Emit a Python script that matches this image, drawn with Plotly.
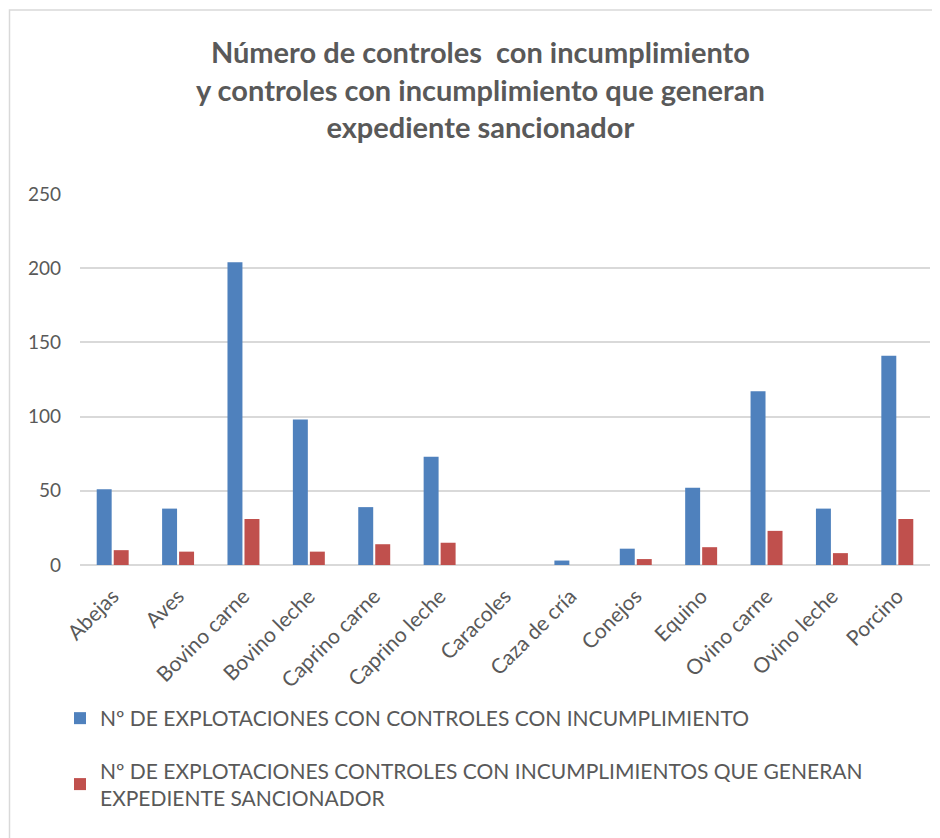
import plotly.graph_objects as go

categories = ["Abejas", "Aves", "Bovino carne", "Bovino leche", "Caprino carne",
              "Caprino leche", "Caracoles", "Caza de cría", "Conejos", "Equino",
              "Ovino carne", "Ovino leche", "Porcino"]
incumplimiento = [51, 38, 204, 98, 39, 73, 0, 3, 11, 52, 117, 38, 141]
sancionador = [10, 9, 31, 9, 14, 15, 0, 0, 4, 12, 23, 8, 31]
series_names = ["Nº DE EXPLOTACIONES CON CONTROLES CON INCUMPLIMIENTO",
                "Nº DE EXPLOTACIONES CONTROLES CON INCUMPLIMIENTOS QUE GENERAN<br>EXPEDIENTE SANCIONADOR"]
title_text = ("Número de controles  con incumplimiento<br>"
              "y controles con incumplimiento que generan<br>expediente sancionador")
y_ticks = [0, 50, 100, 150, 200, 250]

FONT = "Lato"
GREY = "#595959"
OFF = 8  # page body margin

fig = go.Figure()
fig.add_trace(go.Bar(x=categories, y=incumplimiento, name=series_names[0],
                     marker=dict(color="#4f81bd", line=dict(width=0)), legendgroup="a"))
fig.add_trace(go.Bar(x=categories, y=sancionador, name=series_names[1],
                     marker=dict(color="#c0504d", line=dict(width=0)), legendgroup="b"))

W, H = 940, 838
# target page pixels of plot area
PL, PR, PT, PB = 80, 930, 194, 565
L = PL - OFF
T = PT - OFF
R = W - (PR - OFF)
B = H - (PB - OFF)
pw, ph = W - L - R, H - T - B

def px_x(p):
    return (p - OFF - L) / pw

def px_y(p):
    return (H - B - (p - OFF)) / ph

fig.update_layout(
    width=W, height=H,
    margin=dict(l=L, r=R, t=T, b=B),
    paper_bgcolor="white", plot_bgcolor="white",
    font=dict(family=FONT, color=GREY),
    barmode="group", bargap=0.48, bargroupgap=0.12,
    showlegend=True,
    legend=dict(x=px_x(60), xanchor="left", y=px_y(698), yanchor="top",
                orientation="v", tracegroupgap=22,
                font=dict(family=FONT, size=21, color=GREY), bgcolor="rgba(0,0,0,0)"),
    xaxis=dict(tickangle=-45, tickfont=dict(family=FONT, size=21, color=GREY),
               showgrid=False, showline=False, ticks="", ticklabelstandoff=14),
    yaxis=dict(range=[0, 250], tickvals=y_ticks, tickfont=dict(family=FONT, size=19, color=GREY),
               showgrid=True, gridcolor="#d9d9d9", gridwidth=1.5, zeroline=True,
               zerolinecolor="#d9d9d9", zerolinewidth=1.5, showline=False, ticks="",
               ticklabelstandoff=18),
)

fig.add_annotation(text=title_text, xref="paper", yref="paper",
                   x=px_x(480), xanchor="center", y=px_y(89), yanchor="middle",
                   showarrow=False, align="center",
                   font=dict(family=FONT, size=29, color=GREY, weight="bold"))

fig.add_shape(type="rect", xref="paper", yref="paper",
              x0=px_x(9.5), x1=px_x(950), y0=px_y(860), y1=px_y(10),
              line=dict(color="#d9d9d9", width=1.5), fillcolor="rgba(0,0,0,0)", layer="below")

fig.write_html("out.html")
